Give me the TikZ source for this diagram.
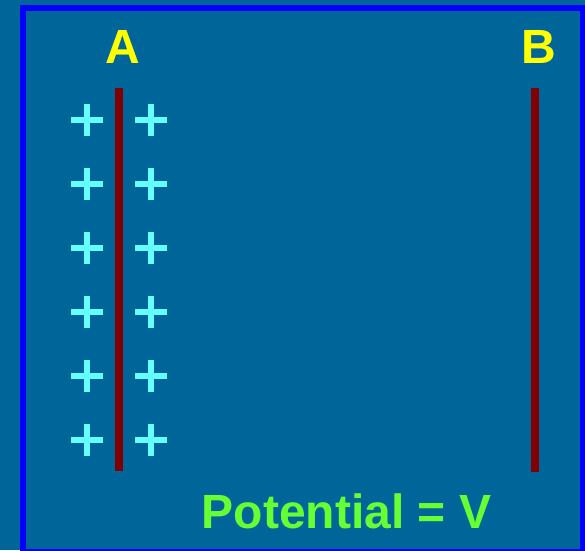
\documentclass[tikz,border=0pt]{standalone}
\usepackage{fontspec}
\setmainfont{Liberation Sans}
\usepackage{tikz}
\usetikzlibrary{positioning}
\definecolor{bgteal}{RGB}{0,102,153}
\definecolor{plate}{RGB}{128,0,0}
\definecolor{charge}{RGB}{102,255,255}
\definecolor{lblyellow}{RGB}{255,255,0}
\definecolor{lblgreen}{RGB}{102,255,51}

\begin{document}
\begin{tikzpicture}[
  x=0.75pt,y=-0.75pt,
  frame/.style={draw=blue,line width=4.5pt},
  platebar/.style={draw=plate,line width=6pt},
  plus/.style={draw=charge,line width=4.5pt},
  lbl/.style={font=\fontsize{36}{40}\selectfont\bfseries,inner sep=0pt,anchor=base}
]
% background and frame
\fill[bgteal] (0,0) rectangle (585,550);
\useasboundingbox (0,0) rectangle (585,550);
\draw[frame] (23,8) rectangle (583,552);

% plates
\draw[platebar] (119,88) -- (119,471);
\draw[platebar] (535,88) -- (535,472);

% charges on both sides of plate A
\foreach \y in {120,184,248,312,376,440}{
  \foreach \x in {87,151}{
    \draw[plus] (\x-16,\y) -- (\x+16,\y) (\x,\y-16) -- (\x,\y+16);
  }
}

% labels
\node[lbl,text=lblyellow] (labelA) at (123,63) {A};
\node[lbl,text=lblyellow] (labelB) at (539,63) {B};
\node[lbl,text=lblgreen]  (potential) at (346.5,528) {Potential = V};
\end{tikzpicture}
\end{document}
